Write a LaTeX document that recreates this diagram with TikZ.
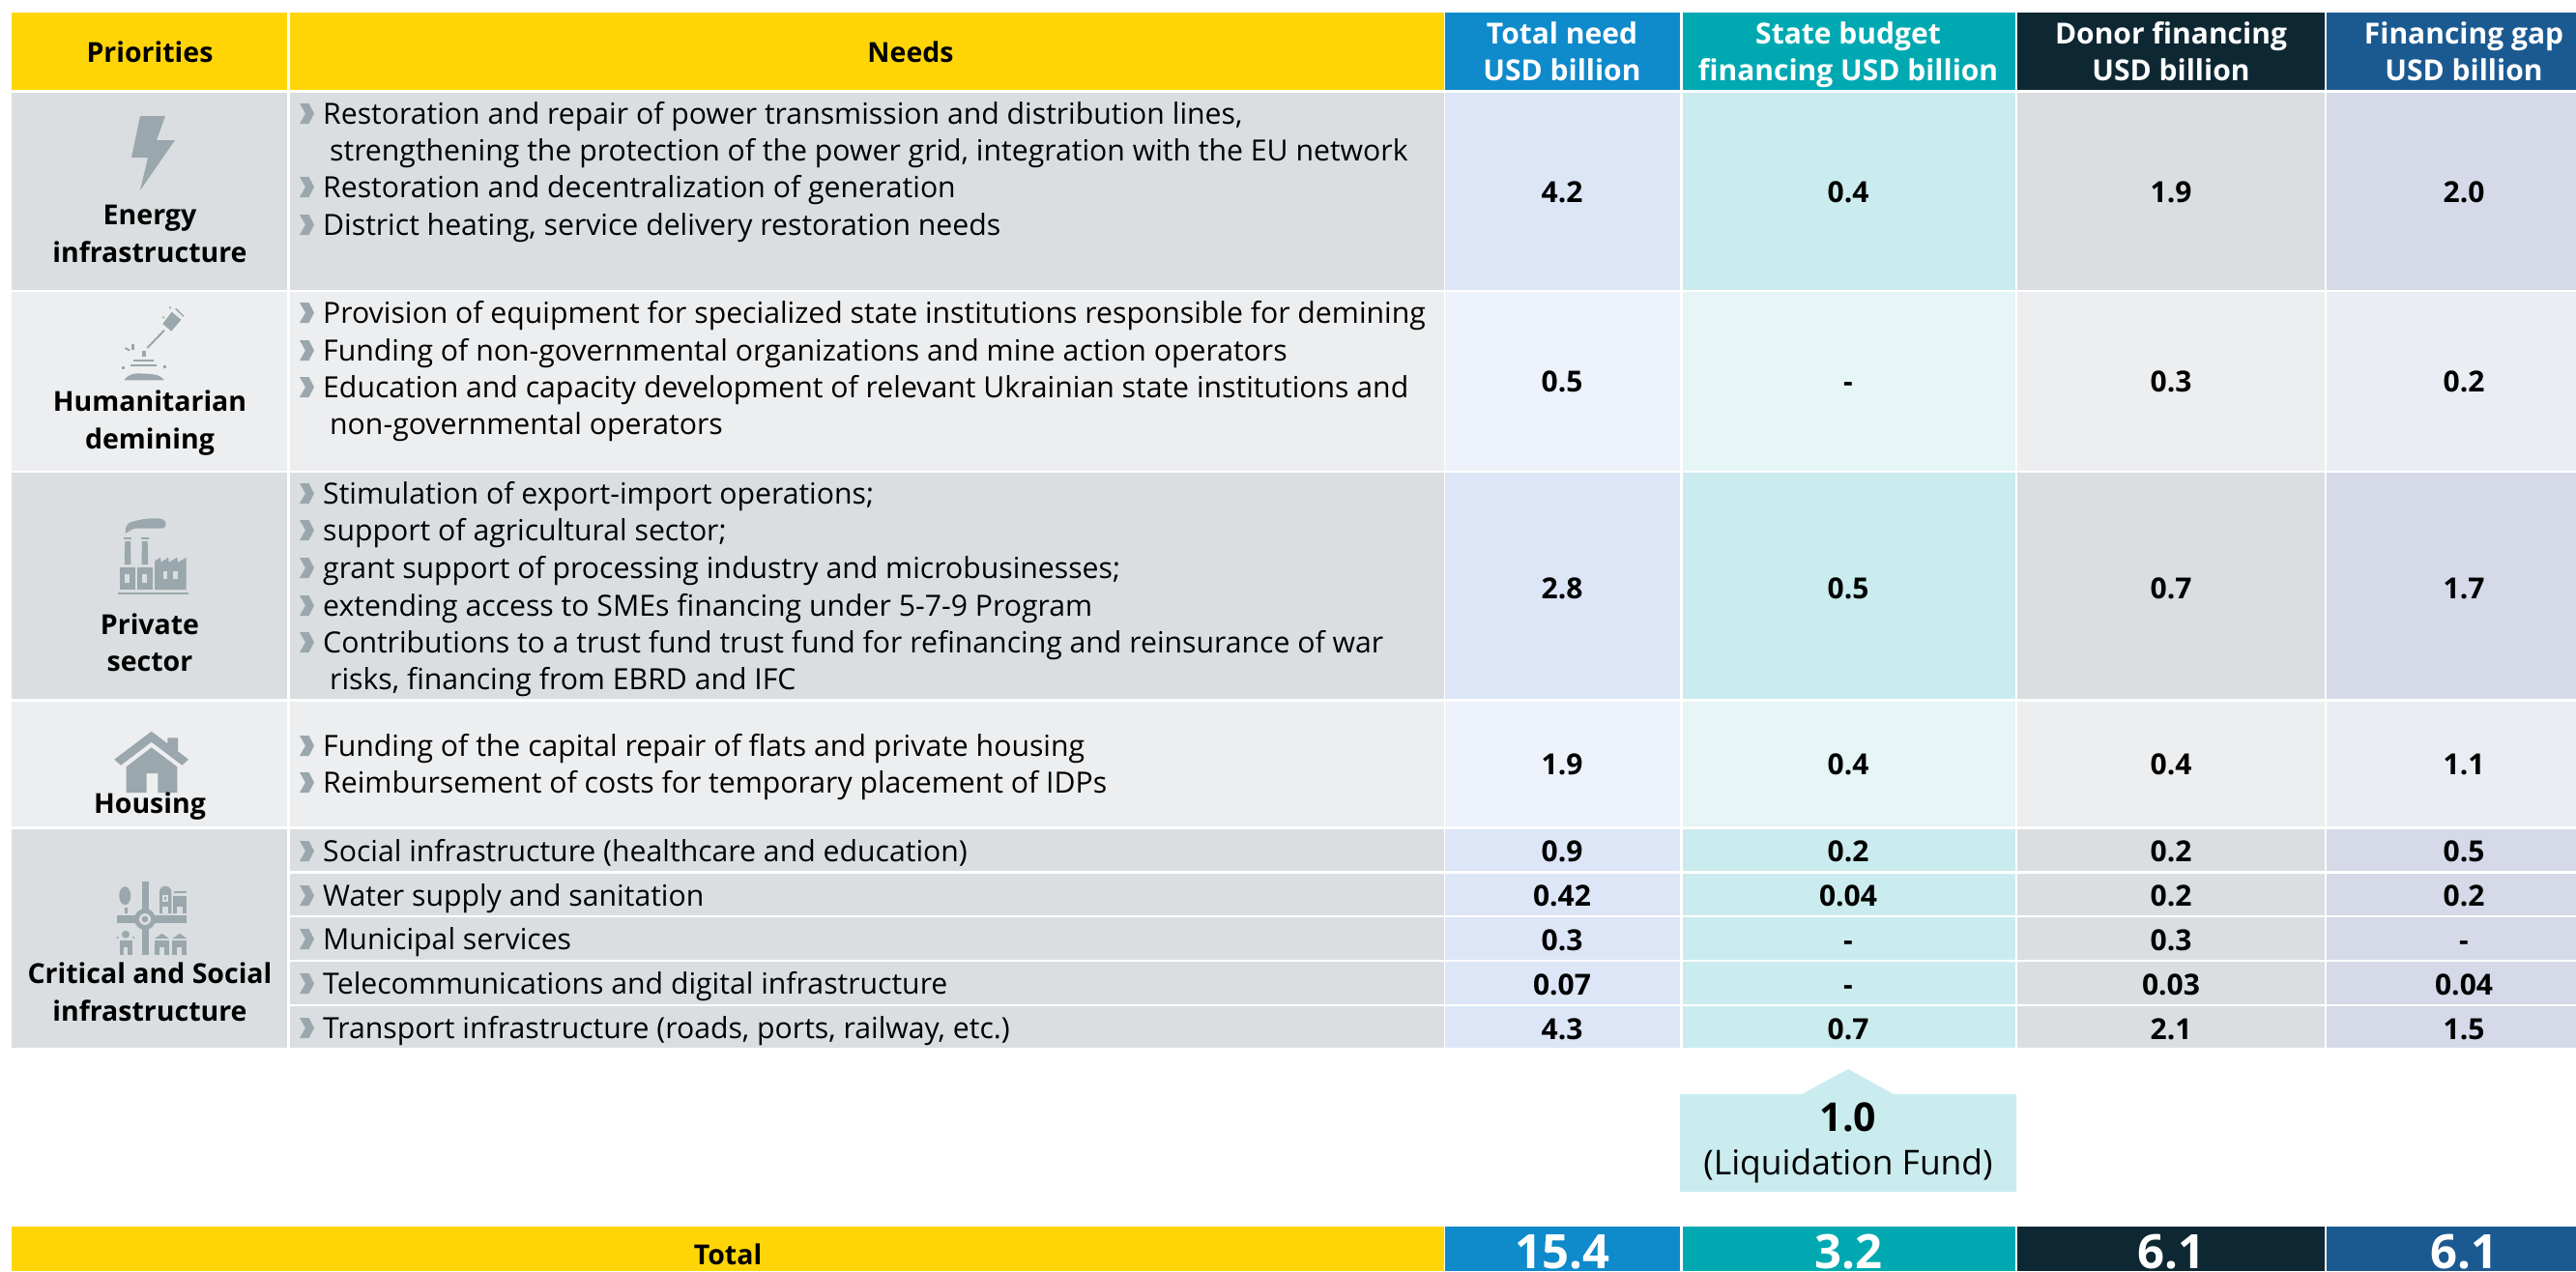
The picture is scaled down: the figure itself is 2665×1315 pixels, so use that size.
\documentclass[tikz,border=0pt]{standalone}
\usepackage{fontspec}
\setmainfont{Open Sans}
\definecolor{yel}{HTML}{FFD507}
\definecolor{hblue}{HTML}{0F8ACB}
\definecolor{hteal}{HTML}{00A9B2}
\definecolor{hdark}{HTML}{0E2833}
\definecolor{hnavy}{HTML}{1B5A91}
\definecolor{gA}{HTML}{DADEE0}
\definecolor{gB}{HTML}{ECEEF0}
\definecolor{blA}{HTML}{DCE6F7}
\definecolor{blB}{HTML}{EEF2FA}
\definecolor{teA}{HTML}{CAECEE}
\definecolor{teB}{HTML}{E6F5F6}
\definecolor{naA}{HTML}{D5D9E8}
\definecolor{naB}{HTML}{EBEDF4}
\definecolor{ico}{HTML}{9AA7AC}
\tikzset{x=1pt,y=-1pt,
 txt/.style={anchor=base west,inner sep=0pt,font=\fontsize{30.2}{36}\selectfont},
 pri/.style={anchor=base,inner sep=0pt,font=\fontsize{28.5}{33}\selectfont\bfseries},
 val/.style={anchor=base,inner sep=0pt,font=\fontsize{30}{36}\selectfont\bfseries},
 hdw/.style={anchor=base,inner sep=0pt,text=white,font=\fontsize{30}{36}\selectfont\bfseries},
 tot/.style={anchor=base,inner sep=0pt,text=white,font=\fontsize{49}{54}\selectfont\bfseries}}
\newcommand{\bul}[1]{\fill[ico] (310,#1-21) -- (319.5,#1-21) -- (325,#1-10.5) -- (319.5,#1) -- (310,#1) -- (316,#1-10.5) -- cycle;}
% top, bottom, grey, blue, teal, navy
\newcommand{\rowfills}[6]{%
 \fill[#3] (12,#1) rectangle (297,#2);
 \fill[#3] (300,#1) rectangle (1494,#2);
 \fill[#4] (1495,#1) rectangle (1738,#2);
 \fill[#5] (1741,#1) rectangle (2085,#2);
 \fill[#3] (2087,#1) rectangle (2405,#2);
 \fill[#6] (2407,#1) rectangle (2665,#2);}
\newcommand{\vals}[5]{%
 \node[val] (a#1) at (1616,#1+11) {#2};
 \node[val] (b#1) at (1912,#1+11) {#3};
 \node[val] (c#1) at (2246,#1+11) {#4};
 \node[val] (d#1) at (2549,#1+11) {#5};}
\begin{document}
\begin{tikzpicture}
\useasboundingbox (0,0) rectangle (2665,1315);
% header
\fill[yel] (12,13) rectangle (297,93);
\fill[yel] (300,13) rectangle (1494,93);
\fill[hblue] (1495,13) rectangle (1738,93);
\fill[hteal] (1741,13) rectangle (2085,93);
\fill[hdark] (2087,13) rectangle (2405,93);
\fill[hnavy] (2407,13) rectangle (2665,93);
\node[pri] (hP) at (155,64) {Priorities};
\node[pri] (hN) at (942,64) {Needs};
\node[hdw] (h1a) at (1616,45) {Total need};
\node[hdw] (h1b) at (1616,83) {USD billion};
\node[hdw] (h2a) at (1912,45) {State budget};
\node[hdw] (h2b) at (1912,83) {financing USD billion};
\node[hdw] (h3a) at (2246,45) {Donor financing};
\node[hdw] (h3b) at (2246,83) {USD billion};
\node[hdw] (h4a) at (2549,45) {Financing gap};
\node[hdw] (h4b) at (2549,83) {USD billion};
% rows
\rowfills{96}{300}{gA}{blA}{teA}{naA}
\rowfills{302}{487}{gB}{blB}{teB}{naB}
\rowfills{489}{723}{gA}{blA}{teA}{naA}
\rowfills{726}{855}{gB}{blB}{teB}{naB}
\rowfills{858}{901}{gA}{blA}{teA}{naA}
\rowfills{904}{947}{gA}{blA}{teA}{naA}
\rowfills{949}{993}{gA}{blA}{teA}{naA}
\rowfills{995}{1039}{gA}{blA}{teA}{naA}
\rowfills{1041}{1084}{gA}{blA}{teA}{naA}
\fill[gA] (12,858) rectangle (297,1084);
% priorities
\node[pri] (p1a) at (155,232) {Energy};
\node[pri] (p1b) at (155,271) {infrastructure};
\node[pri] (p2a) at (155,425) {Humanitarian};
\node[pri] (p2b) at (155,464) {demining};
\node[pri] (p3a) at (155,656) {Private};
\node[pri] (p3b) at (155,694) {sector};
\node[pri] (p5a) at (155,1017) {Critical and Social};
\node[pri] (p5b) at (155,1056) {infrastructure};
% energy icon
\fill[ico] (145,120) -- (171,120) -- (162,145) -- (181,145) -- (145,197) -- (153,163) -- (136,163) -- cycle;
% demining icon
\fill[ico] (177.7,322.7) -- (187.3,330.7) -- (177.3,342.7) -- (168.3,335) -- cycle;
\draw[ico,line width=1.5pt] (181.7,319.3) -- (190,327.3);
\fill[ico] (176,318.3) circle (1.2) (169,328.3) circle (1.2);
\draw[ico,line width=2pt] (170,341.7) -- (152.3,360);
\fill[ico] (146.7,362.7) rectangle (151,369.3);
\fill[ico] (138.3,372) rectangle (159.3,374);
\fill[ico] (135,377.3) rectangle (162.3,379.3);
\fill[ico] (126,379.3) rectangle (129,381.7);
\fill[ico] (169,378) rectangle (172,380.7);
\fill[ico] (128.3,393.3) .. controls (134,386) and (140,386) .. (147,386.5) .. controls (158,387) and (165,387) .. (170,393.3) -- cycle;
\fill[ico] (136,355.7) rectangle (139,361.7);
\draw[ico,line width=2pt] (129.5,360) -- (134,362.5);
% factory icon
\fill[ico] (130,551.7) .. controls (129,543) and (133,540) .. (140,539) .. controls (150,536) and (160,536) .. (167,536.7) .. controls (173,538) and (173,546) .. (168,546.7) -- (140,546.7) .. controls (136,547) and (134,550) .. (130,551.7) -- cycle;
\fill[ico] (128.3,556) rectangle (136,558);
\fill[ico] (146,556) rectangle (153.7,558);
\fill[ico] (129.3,560) -- (135,560) -- (135.5,584) -- (128.8,584) -- cycle;
\fill[ico] (147,560) -- (152.7,560) -- (153.2,584) -- (146.5,584) -- cycle;
\fill[ico] (124,586.7) rectangle (140,610);
\fill[ico] (142,586.7) rectangle (157.7,610);
\fill[gA] (129.3,594) rectangle (134.3,602.7);
\fill[gA] (147.3,594) rectangle (152.3,602.7);
\fill[ico] (160,610) -- (160,580.7) -- (166,576.7) -- (166.7,581.7) -- (174,576.7) -- (174.7,581.7) -- (183.3,576.7) -- (184,581.7) -- (192.7,576.7) -- (192.7,610) -- cycle;
\fill[gA] (168.7,590.7) rectangle (173.3,598.7);
\fill[gA] (179.3,590.7) rectangle (184,598.7);
\fill[ico] (122,612.7) rectangle (195,615);
% housing icon
\fill[ico] (118.3,785.7) -- (156.7,756.7) -- (173.3,769.3) -- (173.3,763.3) -- (184,763.3) -- (184,777.3) -- (195,785.7) -- (188.3,791.7) -- (156.7,767.7) -- (125,791.7) -- cycle;
\fill[ico] (130.7,793.3) -- (156.7,773.3) -- (183.3,793.3) -- (183.3,820) -- (163.3,820) -- (163.3,800) -- (151.7,800) -- (151.7,820) -- (130.7,820) -- cycle;
\node[pri] (p4) at (155,841) {Housing};
% critical icon
\fill[ico] (120.7,946.7) rectangle (192.7,955);
\fill[ico] (146.7,911.7) rectangle (154,988.3);
\fill[ico] (150,951) circle (11);
\fill[gA] (150,951) circle (6);
\fill[ico] (150,951) circle (3.3);
\fill[ico] (129.3,926.7) ellipse (6 and 9.5);
\fill[ico] (129,939) rectangle (132,945);
\fill[ico] (165,945) -- (165,921) .. controls (167,915) and (175,915) .. (177.3,921) -- (177.3,945) -- cycle;
\fill[gA] (168.3,926) rectangle (174,933.3);
\fill[ico] (170,928) rectangle (172.3,931.3);
\fill[gA] (168.3,938.3) rectangle (174,945);
\fill[ico] (180,922) rectangle (193.3,924.3);
\fill[ico] (179.3,927.3) rectangle (192.7,945);
\fill[gA] (182.7,937.7) rectangle (189.3,945);
\fill[ico] (130,966.7) circle (4);
\fill[ico] (121.7,970) circle (1.2) (138.3,970) circle (1.2);
\fill[ico] (124,972.7) rectangle (136.7,988);
\fill[gA] (128.3,980) rectangle (132.3,988);
\fill[ico] (160,971) -- (167.7,965.7) -- (175,971) -- cycle;
\fill[ico] (160,972.7) rectangle (175,988);
\fill[gA] (164.7,980) rectangle (170,988);
\fill[ico] (178.3,971) -- (186,965.7) -- (193.3,971) -- cycle;
\fill[ico] (178.3,972.7) rectangle (193.3,988);
\fill[gA] (183,980) rectangle (188.3,988);
% needs
\bul{128}\node[txt] (n1a) at (334,128) {Restoration and repair of power transmission and distribution lines,};
\node[txt] (n1b) at (341,166) {strengthening the protection of the power grid, integration with the EU network};
\bul{204}\node[txt] (n1c) at (334,204) {Restoration and decentralization of generation};
\bul{243}\node[txt] (n1d) at (334,243) {District heating, service delivery restoration needs};
\bul{334}\node[txt] (n2a) at (334,334) {Provision of equipment for specialized state institutions responsible for demining};
\bul{373}\node[txt] (n2b) at (334,373) {Funding of non-governmental organizations and mine action operators};
\bul{411}\node[txt] (n2c) at (334,411) {Education and capacity development of relevant Ukrainian state institutions and};
\node[txt] (n2d) at (341,449) {non-governmental operators};
\bul{521}\node[txt] (n3a) at (334,521) {Stimulation of export-import operations;};
\bul{559}\node[txt] (n3b) at (334,559) {support of agricultural sector;};
\bul{598}\node[txt] (n3c) at (334,598) {grant support of processing industry and microbusinesses;};
\bul{637}\node[txt] (n3d) at (334,637) {extending access to SMEs financing under 5-7-9 Program};
\bul{675}\node[txt] (n3e) at (334,675) {Contributions to a trust fund trust fund for refinancing and reinsurance of war};
\node[txt] (n3f) at (341,713) {risks, financing from EBRD and IFC};
\bul{782}\node[txt] (n4a) at (334,782) {Funding of the capital repair of flats and private housing};
\bul{820}\node[txt] (n4b) at (334,820) {Reimbursement of costs for temporary placement of IDPs};
\bul{891}\node[txt] (n5a) at (334,891) {Social infrastructure (healthcare and education)};
\bul{937}\node[txt] (n5b) at (334,937) {Water supply and sanitation};
\bul{982}\node[txt] (n5c) at (334,982) {Municipal services};
\bul{1028}\node[txt] (n5d) at (334,1028) {Telecommunications and digital infrastructure};
\bul{1074}\node[txt] (n5e) at (334,1074) {Transport infrastructure (roads, ports, railway, etc.)};
% values
\vals{198}{4.2}{0.4}{1.9}{2.0}
\vals{394}{0.5}{-}{0.3}{0.2}
\vals{608}{2.8}{0.5}{0.7}{1.7}
\vals{790}{1.9}{0.4}{0.4}{1.1}
\vals{880}{0.9}{0.2}{0.2}{0.5}
\vals{926}{0.42}{0.04}{0.2}{0.2}
\vals{972}{0.3}{-}{0.3}{-}
\vals{1018}{0.07}{-}{0.03}{0.04}
\vals{1064}{4.3}{0.7}{2.1}{1.5}
% callout
\fill[teA] (1738,1132) -- (1864,1132) -- (1912,1106) -- (1959,1132) -- (2086,1132) -- (2086,1233) -- (1738,1233) -- cycle;
\node[anchor=base,inner sep=0pt,font=\fontsize{41}{45}\selectfont\bfseries] (lf1) at (1912,1170) {1.0};
\node[anchor=base,inner sep=0pt,font=\fontsize{35.4}{40}\selectfont] (lf2) at (1912,1215) {(Liquidation Fund)};
% total
\fill[yel] (12,1269) rectangle (1494,1315);
\fill[hblue] (1495,1269) rectangle (1738,1315);
\fill[hteal] (1741,1269) rectangle (2085,1315);
\fill[hdark] (2087,1269) rectangle (2405,1315);
\fill[hnavy] (2407,1269) rectangle (2665,1315);
\node[pri] (tT) at (753,1308) {Total};
\node[tot] (t1) at (1616,1312) {15.4};
\node[tot] (t2) at (1912,1312) {3.2};
\node[tot] (t3) at (2246,1312) {6.1};
\node[tot] (t4) at (2549,1312) {6.1};
\end{tikzpicture}
\end{document}
